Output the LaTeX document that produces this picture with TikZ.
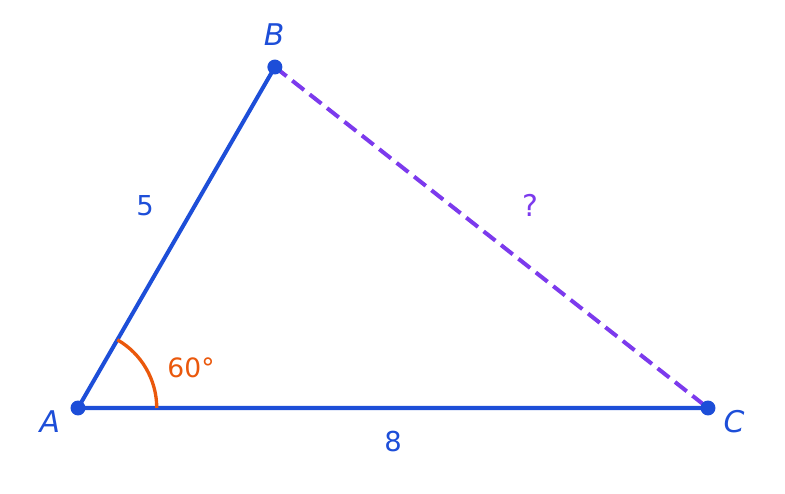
\documentclass[tikz,border=0pt]{standalone}
\usepackage{fontspec}
\setmainfont{DejaVu Sans}
\usetikzlibrary{arrows.meta}
\definecolor{sideblue}{HTML}{1D4ED8}
\definecolor{unknownpurple}{HTML}{7C3AED}
\definecolor{angleorange}{HTML}{EA580C}

\begin{document}
\begin{tikzpicture}[scale=1.0000]
	\tikzstyle{every node}=[scale=1.0000]
	\tikzstyle{side}=[line width=1.45pt, draw=sideblue]
	\tikzstyle{vertex}=[circle, fill=sideblue, inner sep=0pt, minimum size=0.19cm]
	\tikzstyle{vlabel}=[text=sideblue, font=\fontsize{10.8}{12}\selectfont\itshape]
	\tikzstyle{slabel}=[font=\fontsize{9.9}{11}\selectfont]

	\useasboundingbox (-0.9905,-1.0921) rectangle (8.9778,5.1810);

	\coordinate (A) at (0.0000,0.0000);
	\coordinate (B) at (2.5000,4.3301);
	\coordinate (C) at (8.0000,0.0000);

	\draw [line width=1.45pt, draw=unknownpurple, dash pattern=on 5.4pt off 2.6pt]  (B) -- (C);
	\draw [side]  (C) -- (A) -- (B);
	\draw [line width=1.2pt, draw=angleorange]  (1.0000,0.0000) arc (0:60:1.0000);

	\node [vertex] (pA) at (A) {};
	\node [vertex] (pB) at (B) {};
	\node [vertex] (pC) at (C) {};

	\node [vlabel] (lA) at (-0.3560,-0.1780) {A};
	\node [vlabel] (lB) at (2.4890,4.7400) {B};
	\node [vlabel] (lC) at (8.3300,-0.1780) {C};
	\node [slabel, text=sideblue] (lAB) at (0.8510,2.5650) {5};
	\node [slabel, text=sideblue] (lAC) at (4.0000,-0.4320) {8};
	\node [slabel, text=unknownpurple, font=\fontsize{10.8}{12}\selectfont] (lBC) at (5.7400,2.5780) {?};
	\node [slabel, text=angleorange, font=\fontsize{9.6}{11}\selectfont] (lang) at (1.4350,0.5080) {60°};

\end{tikzpicture}
\end{document}
